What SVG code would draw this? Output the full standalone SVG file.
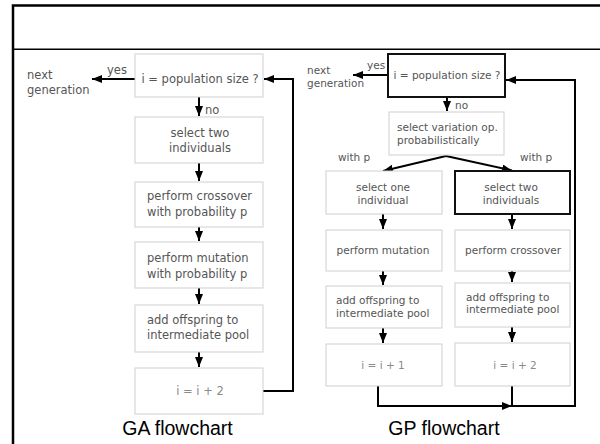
<svg xmlns="http://www.w3.org/2000/svg" width="600" height="444" viewBox="0 0 600 444">
<defs>
<marker id="arr" markerUnits="userSpaceOnUse" markerWidth="10" markerHeight="8" refX="10" refY="4" orient="auto">
<path d="M0,0 L10,4 L0,8 z" fill="#000"/>
</marker>
<style>
.box{fill:#fff;stroke:#cfcfcf;stroke-width:1}
.tbox{fill:#fff;stroke:#111;stroke-width:2}
.t{font-family:"DejaVu Sans",sans-serif;fill:#555}
.ga{font-size:11.5px}
.gp{font-size:10.5px}
.lt{fill:#8a8a8a}
.c{text-anchor:middle}
.con{fill:none;stroke:#000;stroke-width:2}
.cap{font-family:"Liberation Sans",Arial,sans-serif;font-size:19.5px;fill:#000;text-anchor:middle}
</style>
</defs>
<rect width="600" height="444" fill="#fff"/>
<g id="frame" fill="none" stroke="#000">
<path d="M13,446 V5.5 H602" stroke-width="2.5"/>
<path d="M13,49.3 H602" stroke-width="1.5"/>
</g>

<g id="connectors">
<!-- GA -->
<path class="con" d="M135,79 H92" marker-end="url(#arr)"/>
<path class="con" d="M199,97 V116" marker-end="url(#arr)"/>
<path class="con" d="M199,163 V181" marker-end="url(#arr)"/>
<path class="con" d="M199,227 V241" marker-end="url(#arr)"/>
<path class="con" d="M199,288 V304" marker-end="url(#arr)"/>
<path class="con" d="M199,352 V367" marker-end="url(#arr)"/>
<path class="con" d="M263,391 H293 V79 H264" marker-end="url(#arr)"/>
<!-- GP -->
<path class="con" d="M388,75 H353" marker-end="url(#arr)"/>
<path class="con" d="M447,97 V111" marker-end="url(#arr)"/>
<path class="con" d="M446,156 L383,171" marker-end="url(#arr)"/>
<path class="con" d="M446,156 L512,170.5" marker-end="url(#arr)"/>
<path class="con" d="M383,214 V229" marker-end="url(#arr)"/>
<path class="con" d="M512,214 V229" marker-end="url(#arr)"/>
<path class="con" d="M383,271 V285" marker-end="url(#arr)"/>
<path class="con" d="M512,271 V282" marker-end="url(#arr)"/>
<path class="con" d="M383,328 V343" marker-end="url(#arr)"/>
<path class="con" d="M512,327 V342" marker-end="url(#arr)"/>
<path class="con" d="M378,386 V406 H512" marker-end="url(#arr)"/>
<path class="con" d="M512,386 V406 H575 V80 H506" marker-end="url(#arr)"/>
</g>

<g id="ga-labels">
<text class="t ga" x="107" y="73.5">yes</text>
<text class="t ga" x="27" y="78.5">next</text>
<text class="t ga" x="27" y="94">generation</text>
<text class="t ga" x="205" y="113.5">no</text>
</g>

<g id="ga-n1"><rect class="box" x="135" y="54" width="128" height="43"/><text class="t ga c" x="200" y="82.5">i = population size ?</text></g>
<g id="ga-n2"><rect class="box" x="135" y="117" width="128" height="46"/><text class="t ga c" x="200" y="137">select two</text><text class="t ga c" x="200" y="152">individuals</text></g>
<g id="ga-n3"><rect class="box" x="135" y="182" width="128" height="45"/><text class="t ga" x="147" y="200">perform crossover</text><text class="t ga" x="147" y="216">with probability p</text></g>
<g id="ga-n4"><rect class="box" x="135" y="242" width="128" height="46"/><text class="t ga" x="147" y="261.5">perform mutation</text><text class="t ga" x="147" y="278">with probability p</text></g>
<g id="ga-n5"><rect class="box" x="135" y="305" width="128" height="47"/><text class="t ga" x="147" y="324">add offspring to</text><text class="t ga" x="147" y="339">intermediate pool</text></g>
<g id="ga-n6"><rect class="box" x="135" y="368" width="128" height="46"/><text class="t ga c lt" x="200" y="395">i = i + 2</text></g>

<g id="gp-labels">
<text class="t gp" x="367" y="69">yes</text>
<text class="t gp" x="307" y="74">next</text>
<text class="t gp" x="307" y="87">generation</text>
<text class="t gp" x="455" y="109">no</text>
<text class="t gp" x="338" y="161">with p</text>
<text class="t gp" x="520" y="161">with p</text>
</g>

<g id="gp-n1"><rect class="tbox" x="388" y="54" width="117" height="43"/><text class="t gp c" x="447" y="79">i = population size ?</text></g>
<g id="gp-n2"><rect class="box" x="389" y="112" width="115" height="43"/><text class="t gp" x="397" y="130.5">select variation op.</text><text class="t gp" x="397" y="144">probabilistically</text></g>
<g id="gp-n3"><rect class="box" x="326" y="171" width="116" height="43"/><text class="t gp c" x="383" y="190.5">select one</text><text class="t gp c" x="383" y="204">individual</text></g>
<g id="gp-n4"><rect class="tbox" x="455" y="171" width="115" height="43"/><text class="t gp c" x="511" y="190.5">select two</text><text class="t gp c" x="511" y="204">individuals</text></g>
<g id="gp-n5"><rect class="box" x="326" y="230" width="116" height="41"/><text class="t gp c" x="383" y="254">perform mutation</text></g>
<g id="gp-n6"><rect class="box" x="455" y="230" width="115" height="41"/><text class="t gp c" x="513" y="254">perform crossover</text></g>
<g id="gp-n7"><rect class="box" x="326" y="286" width="116" height="42"/><text class="t gp" x="336" y="304">add offspring to</text><text class="t gp" x="336" y="317">intermediate pool</text></g>
<g id="gp-n8"><rect class="box" x="455" y="283" width="115" height="44"/><text class="t gp" x="466" y="300.5">add offspring to</text><text class="t gp" x="466" y="313">intermediate pool</text></g>
<g id="gp-n9"><rect class="box" x="326" y="344" width="116" height="42"/><text class="t gp c lt" x="383" y="369">i = i + 1</text></g>
<g id="gp-n10"><rect class="box" x="455" y="343" width="115" height="43"/><text class="t gp c lt" x="515" y="369">i = i + 2</text></g>

<g id="captions">
<text class="cap" x="177.5" y="435">GA flowchart</text>
<text class="cap" x="444" y="435">GP flowchart</text>
</g>
</svg>
